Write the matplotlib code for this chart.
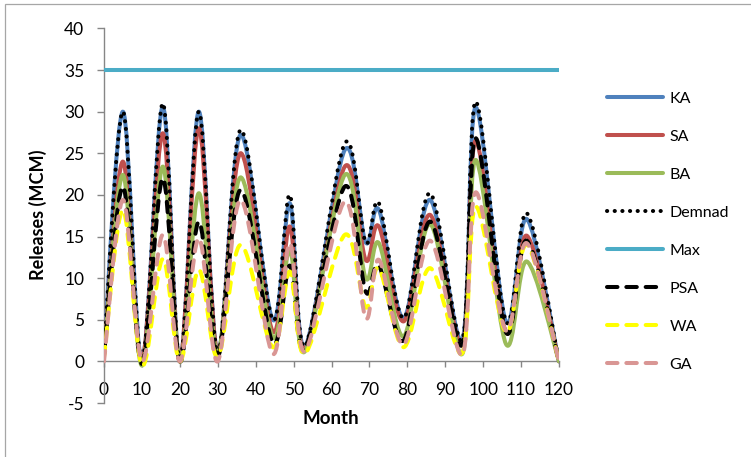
import matplotlib
matplotlib.use('Agg')
import matplotlib.pyplot as plt
from matplotlib.path import Path
from matplotlib.patches import PathPatch, Rectangle
from matplotlib.lines import Line2D
import numpy as np

plt.rcParams['font.family'] = ['Lato', 'DejaVu Sans']
plt.rcParams['axes.unicode_minus'] = False

# ---- data ----
months = [0, 5, 10, 15.5, 20, 25, 30, 36, 44.5, 49, 53, 63.5, 69, 72.5, 79, 86, 94.5, 98, 106, 111.5, 120]
ka      = [1, 30.0, 0.0, 30.6, 0.0, 30.0, 1.0, 27.2, 5.0, 19.0, 1.8, 25.4, 14.3, 18.2, 5.2, 19.4, 2.6, 30.5, 4.8, 17.1, 0]
sa      = [1, 24.0, 0.0, 27.4, 0.0, 28.0, 1.0, 25.0, 3.6, 16.2, 1.5, 23.4, 12.2, 16.2, 4.8, 17.6, 2.0, 26.5, 3.5, 15.1, 0]
ba      = [0.8, 22.4, -0.5, 23.4, 0.0, 20.2, 1.0, 22.1, 2.9, 13.4, 1.2, 22.4, 10.0, 14.2, 3.0, 16.5, 0.9, 24.2, 2.1, 12.0, 0]
demand  = [1, 30.0, 0.0, 31.0, 0.0, 30.0, 1.0, 27.8, 5.0, 20.0, 1.8, 26.2, 14.3, 19.0, 5.2, 20.2, 2.6, 31.2, 4.8, 17.8, 0]
psa     = [0.8, 21.0, -0.3, 22.0, 0.0, 16.8, 0.5, 20.6, 2.2, 11.5, 1.5, 21.0, 8.4, 11.5, 2.5, 16.8, 2.0, 26.8, 3.5, 14.5, 0]
wa      = [0.5, 18.2, -0.5, 12.3, 0.0, 11.0, 0.5, 14.0, 1.7, 10.8, 0.9, 15.2, 6.5, 11.2, 1.7, 11.2, 1.0, 18.6, 3.5, 14.0, 0]
ga      = [0, 19.4, 0.0, 15.2, 0.0, 14.8, 0.0, 19.4, 0.9, 14.2, 1.2, 19.2, 5.2, 12.2, 2.0, 14.5, 0.8, 20.3, 3.7, 14.2, 0]
max_months = [0, 120]
max_vals = [35, 35]

x_ticks = list(range(0, 121, 10))
y_ticks = list(range(-5, 41, 5))

C_KA = '#4F81BD'
C_SA = '#C0504D'
C_BA = '#9BBB59'
C_MAX = '#4BACC6'
C_WA = '#FFFF00'
C_GA = '#D99694'
AX_GRAY = '#868686'

LW = 2.9
DASH = (0, (2.6, 2.2))
DOT = (0, (0.05, 1.85))


def smooth_path(x, y):
    """Excel-style smoothed line: cubic Bezier segments through the data points."""
    pts = np.column_stack([x, y]).astype(float)
    n = len(pts)
    verts = [pts[0]]
    codes = [Path.MOVETO]
    for i in range(n - 1):
        p0 = pts[i - 1] if i > 0 else pts[i]
        p1 = pts[i]
        p2 = pts[i + 1]
        p3 = pts[i + 2] if i + 2 < n else pts[i + 1]
        c1 = p1 + (p2 - p0) / 6.0
        c2 = p2 - (p3 - p1) / 6.0
        verts += [c1, c2, p2]
        codes += [Path.CURVE4] * 3
    return Path(verts, codes)


fig = plt.figure(figsize=(7.51, 4.57), dpi=100)
ax = fig.add_axes([104 / 751, 1 - 403 / 457, (559 - 104) / 751, (403 - 28.4) / 457])

series = [
    ('KA', ka, dict(color=C_KA, linestyle='solid')),
    ('SA', sa, dict(color=C_SA, linestyle='solid')),
    ('BA', ba, dict(color=C_BA, linestyle='solid')),
    ('Demnad', demand, dict(color='black', linestyle=DOT)),
    ('Max', None, dict(color=C_MAX, linestyle='solid')),
    ('PSA', psa, dict(color='black', linestyle=DASH)),
    ('WA', wa, dict(color=C_WA, linestyle=DASH)),
    ('GA', ga, dict(color=C_GA, linestyle=DASH)),
]

handles = []
for z, (name, vals, st) in enumerate(series):
    if vals is None:
        ax.plot(max_months, max_vals, color=st['color'], lw=LW, solid_capstyle='butt', zorder=3 + z)
    else:
        patch = PathPatch(smooth_path(months, vals), fill=False, edgecolor=st['color'],
                          linewidth=LW, linestyle=st['linestyle'], capstyle='round',
                          joinstyle='round', zorder=3 + z)
        ax.add_patch(patch)
    handles.append(Line2D([], [], color=st['color'], lw=LW, linestyle=st['linestyle'],
                          dash_capstyle='round', solid_capstyle='round', label=name))

ax.set_xlim(0, 120)
ax.set_ylim(-5, 40)
ax.set_xticks(x_ticks)
ax.set_yticks(y_ticks)

for s in ['top', 'right']:
    ax.spines[s].set_visible(False)
ax.spines['bottom'].set_position(('data', 0))
for s in ['left', 'bottom']:
    ax.spines[s].set_color(AX_GRAY)
    ax.spines[s].set_linewidth(1.0)

ax.tick_params(axis='y', direction='out', length=4.8, width=1.0, color=AX_GRAY, pad=9.4,
               labelsize=12.5, labelcolor='black')
ax.tick_params(axis='x', direction='out', length=4.0, width=1.0, color=AX_GRAY, pad=11.0,
               labelsize=12.5, labelcolor='black')

ax.set_xlabel('Month', fontsize=13.5, fontweight='bold')
ax.xaxis.set_label_coords((331 - 104) / 455, (403 - 419) / 375)
ax.xaxis.label.set_verticalalignment('center')
ax.set_ylabel('Releases (MCM)', fontsize=13, fontweight='bold')
ax.yaxis.set_label_coords((38 - 104) / 455, (403 - 215) / 375)
ax.yaxis.label.set_verticalalignment('center')

ax.legend(handles=handles, loc='upper left', bbox_to_anchor=(607 / 751, 1 - 91.5 / 457),
          bbox_transform=fig.transFigure, frameon=False, fontsize=11.5,
          handlelength=3.5, handletextpad=0.4, labelspacing=1.49, borderpad=0, borderaxespad=0)

# chart area border
fig.patches.append(Rectangle((5 / 751, -0.05), 1.2, 1.05 - 4 / 457, transform=fig.transFigure,
                             fill=False, edgecolor='#A6A6A6', lw=0.9))

fig.savefig('out.png', dpi=100)
